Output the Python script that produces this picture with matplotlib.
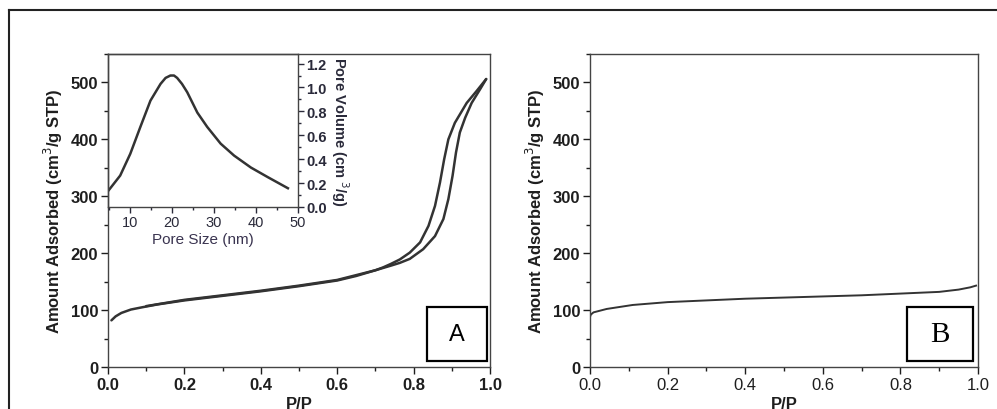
import matplotlib
matplotlib.use("Agg")
import matplotlib.pyplot as plt
from matplotlib.patches import Rectangle
from matplotlib.lines import Line2D
from matplotlib.ticker import MultipleLocator

plt.rcParams['font.family'] = ['Liberation Sans', 'DejaVu Sans']

# ---- data ----
a_ads_p = [0.009, 0.02, 0.035, 0.06, 0.09, 0.13, 0.2, 0.3, 0.4, 0.5, 0.6, 0.65, 0.7, 0.74,
           0.764, 0.79, 0.825, 0.856, 0.878, 0.891, 0.902, 0.911, 0.921, 0.935, 0.952,
           0.974, 0.99]
a_ads_v = [82, 89, 95, 101, 105, 110, 117, 125, 133, 142, 152, 160, 170, 178,
           183, 190, 207, 230, 260, 295, 336, 377, 412, 438, 464,
           488, 506]
a_des_p = [0.99, 0.965, 0.939, 0.908, 0.891, 0.88, 0.869, 0.856, 0.839, 0.817, 0.79,
           0.764, 0.74, 0.72, 0.70, 0.6, 0.5, 0.4, 0.3, 0.2, 0.1]
a_des_v = [506, 485, 464, 429, 400, 365, 324, 283, 248, 219, 201,
           189, 181, 175, 170, 153, 143, 134, 126, 118, 107]
b_p = [0.0, 0.002, 0.009, 0.043, 0.11, 0.2, 0.3, 0.4, 0.5, 0.6, 0.7, 0.8, 0.9, 0.95, 0.98, 0.995]
b_v = [88, 92, 96, 102, 109, 114, 117, 120, 122, 124, 126, 129, 132, 136, 140, 143]
pore_size = [4.9, 7.7, 10.1, 12.5, 14.9, 17.3, 18.5, 19.65, 20.5, 21.25, 22.4, 23.65,
             26.05, 28.4, 31.6, 34.8, 38.8, 42.8, 47.6]
pore_vol = [0.137, 0.263, 0.445, 0.67, 0.89, 1.03, 1.08, 1.10, 1.10, 1.08, 1.03, 0.96,
            0.79, 0.67, 0.53, 0.43, 0.33, 0.25, 0.157]
x_ticks = [0.0, 0.2, 0.4, 0.6, 0.8, 1.0]
y_ticks = [0, 100, 200, 300, 400, 500]
inset_xticks = [10, 20, 30, 40, 50]
inset_yticks = [0.0, 0.2, 0.4, 0.6, 0.8, 1.0, 1.2]
ylabel = "Amount Adsorbed (cm$^3$/g STP)"
xlabel = "P/P"

W, H = 997, 410
fig = plt.figure(figsize=(W / 100, H / 100), dpi=100)

def fx(px):
    return px / W

def fy(py):
    return 1 - py / H

ink = "#1e1e1e"
line_col = "#333333"

def setup_main(ax, bold_x, bold_y):
    ax.set_xlim(0, 1.0)
    ax.set_ylim(0, 550)
    ax.set_xticks(x_ticks)
    ax.set_xticklabels([f"{t:.1f}" for t in x_ticks],
                       fontweight='bold' if bold_x else 'normal')
    ax.set_yticks(y_ticks)
    ax.set_yticklabels([str(t) for t in y_ticks],
                       fontweight='bold' if bold_y else 'normal')
    ax.xaxis.set_minor_locator(MultipleLocator(0.1))
    ax.yaxis.set_minor_locator(MultipleLocator(50))
    ax.tick_params(which='major', direction='out', length=5, width=1, colors=ink,
                   labelsize=12, top=False, right=False, pad=2)
    ax.tick_params(which='minor', direction='out', length=3, width=1, colors=ink,
                   top=False, right=False)
    for s in ax.spines.values():
        s.set_linewidth(1.0)
        s.set_color("#444444")
    ax.set_ylabel(ylabel, fontsize=12, fontweight='bold', color=ink, labelpad=4)
    ax.set_xlabel(xlabel, fontsize=12, fontweight='bold', color=ink, labelpad=3)

# Panel A
axA = fig.add_axes([fx(108), fy(368), (490 - 108) / W, (368 - 55) / H])
setup_main(axA, True, True)
axA.plot(a_ads_p, a_ads_v, color=line_col, lw=1.8, solid_capstyle='round')
axA.plot(a_des_p, a_des_v, color=line_col, lw=1.8, solid_capstyle='round')
axA.add_patch(Rectangle((0.835, 0.019), 0.157, 0.173, transform=axA.transAxes,
                        fill=False, lw=1.6, ec='black', zorder=5))
axA.text(0.9135, 0.105, "A", transform=axA.transAxes, ha='center', va='center',
         fontsize=17, family=['Liberation Sans', 'DejaVu Sans'], color='black', zorder=6)

# Panel B
axB = fig.add_axes([fx(590), fy(368), (978 - 590) / W, (368 - 55) / H])
setup_main(axB, False, True)
axB.plot(b_p, b_v, color=line_col, lw=1.4)
axB.add_patch(Rectangle((0.817, 0.019), 0.170, 0.173, transform=axB.transAxes,
                        fill=False, lw=1.6, ec='black', zorder=5))
axB.text(0.902, 0.105, "B", transform=axB.transAxes, ha='center', va='center',
         fontsize=21, family=['Liberation Serif', 'DejaVu Serif'], color='black', zorder=6)

# Inset
axI = fig.add_axes([fx(108), fy(208), (298 - 108) / W, (208 - 55) / H])
axI.set_facecolor('none')
axI.plot(pore_size, pore_vol, color=line_col, lw=1.8)
axI.set_xlim(4.8, 50)
axI.set_ylim(0, 1.28)
axI.set_xticks(inset_xticks)
axI.set_xticklabels([str(t) for t in inset_xticks])
axI.xaxis.set_minor_locator(MultipleLocator(5))
axI.yaxis.tick_right()
axI.yaxis.set_label_position('right')
axI.set_yticks(inset_yticks)
axI.set_yticklabels([f"{t:.1f}" for t in inset_yticks], fontweight='bold')
axI.yaxis.set_minor_locator(MultipleLocator(0.1))
axI.tick_params(which='major', direction='out', length=4, width=1, colors="#2a2a3a",
                labelsize=10.5, pad=2)
axI.tick_params(which='minor', direction='out', length=2.5, width=1, colors="#2a2a3a")
axI.tick_params(axis='y', which='both', left=False, right=True)
for s in axI.spines.values():
    s.set_linewidth(1.0)
    s.set_color("#444444")
axI.set_xlabel("Pore Size (nm)", fontsize=11, color="#3a3450", labelpad=2)
axI.set_ylabel("Pore Volume (cm $^3$/g)", fontsize=10.5, fontweight='bold',
               color="#2a2a3a", rotation=270, labelpad=17)

# Outer frame lines
fig.add_artist(Line2D([fx(9), fx(9)], [fy(11), 0], color='#222222', lw=1.5))
fig.add_artist(Line2D([fx(9), 1.0], [fy(11), fy(11)], color='#222222', lw=1.5))

fig.savefig("out.png", dpi=100)
